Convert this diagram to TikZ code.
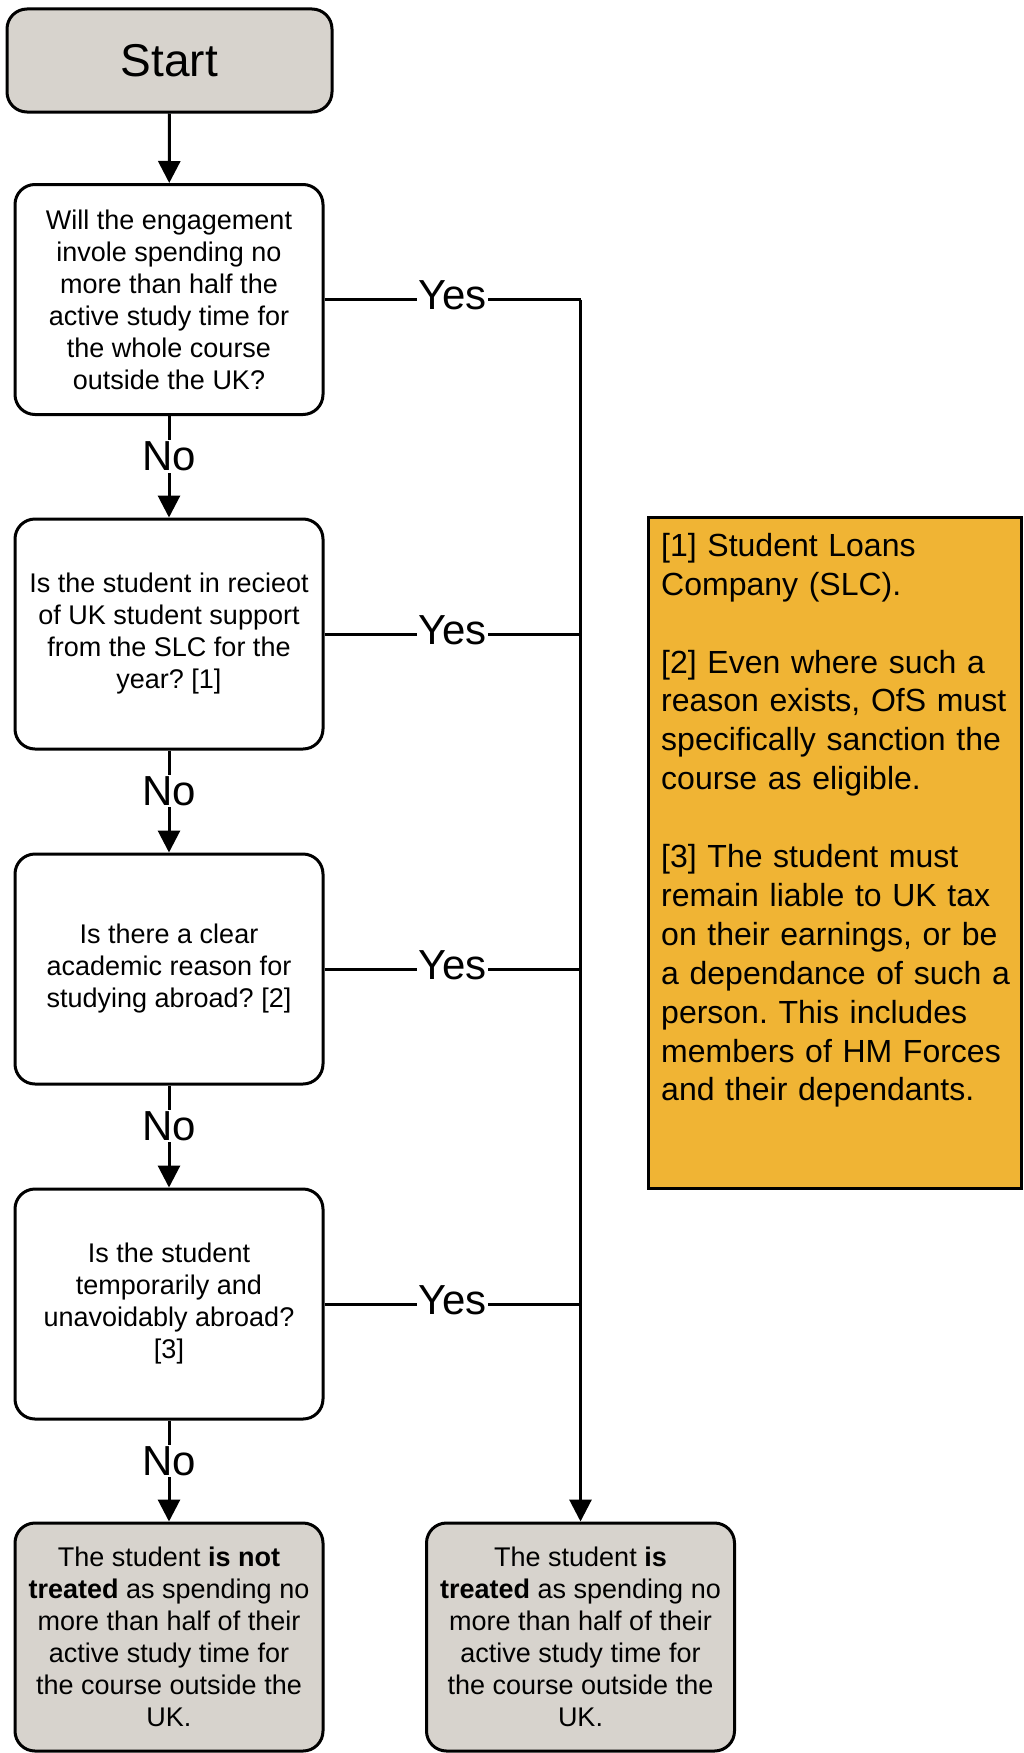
\documentclass[tikz,border=0pt]{standalone}
\usepackage{fontspec}
\setmainfont{Liberation Sans}
\usetikzlibrary{arrows.meta}
\definecolor{boxgray}{RGB}{215,211,205}
\definecolor{noteorange}{RGB}{240,180,52}
\frenchspacing
\begin{document}
\begin{tikzpicture}[x=1pt,y=-1pt,
  question/.style={draw, line width=3pt, rounded corners=20pt, fill=white,
    minimum width=308pt, minimum height=230pt, align=center,
    font=\fontsize{27}{32}\selectfont},
  outcome/.style={question, fill=boxgray, minimum height=228pt},
  terminal/.style={draw, line width=3pt, rounded corners=20pt, fill=boxgray,
    minimum width=325pt, minimum height=103pt,
    font=\fontsize{46}{55}\selectfont},
  notebox/.style={draw, line width=2.5pt, fill=noteorange,
    minimum width=373pt, minimum height=671pt},
  conn/.style={line width=3pt, -{Triangle[length=22pt,width=22pt]}},
  plain/.style={line width=3pt},
  lbl/.style={fill=white, inner sep=1.5pt, font=\fontsize{42}{48}\selectfont}
]
\fill[white] (0,0) rectangle (1024,1753);
\useasboundingbox (0,0) rectangle (1024,1753);

% main column
\node[terminal] (start) at (169.5,60.5) {Start};
\node[question] (q1) at (169,299.5) {Will the engagement\\invole spending no\\more than half the\\active study time for\\the whole course\\outside the UK?};
\node[question] (q2) at (169,634) {Is the student in recieot\\of UK student support\\from the SLC for the\\year? [1]};
\node[question] (q3) at (169,969) {Is there a clear\\academic reason for\\studying abroad? [2]};
\node[question] (q4) at (169,1304) {Is the student\\temporarily and\\unavoidably abroad?\\{[3]}};
\node[outcome] (notok) at (169,1637) {The student \textbf{is not}\\\textbf{treated} as spending no\\more than half of their\\active study time for\\the course outside the\\UK.};
\node[outcome] (ok) at (580.5,1637) {The student \textbf{is}\\\textbf{treated} as spending no\\more than half of their\\active study time for\\the course outside the\\UK.};

% footnotes
\node[notebox] (note) at (835,853) {};
\node[anchor=north west, inner sep=0pt, text width=370pt, align=left,
  font=\fontsize{32}{38.9}\selectfont] (notetext) at (661,533)
  {[1] Student Loans\\Company (SLC).\\[38.9pt]
   [2] Even where such a\\reason exists, OfS must\\specifically sanction the\\course as eligible.\\[38.9pt]
   [3] The student must\\remain liable to UK tax\\on their earnings, or be\\a dependance of such a\\person. This includes\\members of HM Forces\\and their dependants.};

% "No" path
\draw[conn] (start) -- (q1);
\draw[conn] (q1) -- node[lbl, pos=0.4]{No} (q2);
\draw[conn] (q2) -- node[lbl, pos=0.4]{No} (q3);
\draw[conn] (q3) -- node[lbl, pos=0.4]{No} (q4);
\draw[conn] (q4) -- node[lbl, pos=0.4]{No} (notok);

% "Yes" path
\coordinate (ytop) at (q1.east -| ok.north);
\draw[plain] (q1.east) -- node[lbl, yshift=4pt]{Yes} (ytop);
\draw[conn] (ytop) -- (ok.north);
\draw[plain] (q2.east) -- node[lbl, yshift=4pt]{Yes} (q2.east -| ok.north);
\draw[plain] (q3.east) -- node[lbl, yshift=4pt]{Yes} (q3.east -| ok.north);
\draw[plain] (q4.east) -- node[lbl, yshift=4pt]{Yes} (q4.east -| ok.north);
\end{tikzpicture}
\end{document}
